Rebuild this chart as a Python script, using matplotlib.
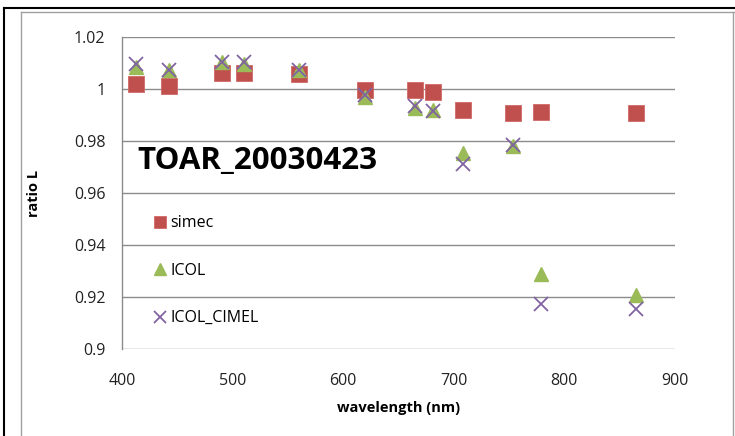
import matplotlib
matplotlib.use("Agg")
import matplotlib.pyplot as plt
from matplotlib.lines import Line2D

wavelength = [412.5, 442.5, 490, 510, 560, 620, 665, 681.25, 708.75, 753.75, 778.75, 865]
simec = [1.002, 1.0012, 1.006, 1.0062, 1.0056, 0.9998, 0.9996, 0.9987, 0.9921, 0.9906, 0.9912, 0.9908]
icol = [1.0085, 1.0073, 1.0102, 1.0098, 1.0072, 0.9971, 0.9928, 0.9920, 0.9754, 0.9780, 0.9288, 0.9207]
icol_cimel = [1.0095, 1.0075, 1.0105, 1.0102, 1.0075, 0.9977, 0.9935, 0.9915, 0.9712, 0.9785, 0.9175, 0.9155]

yticks = [0.9, 0.92, 0.94, 0.96, 0.98, 1.0, 1.02]
ytick_labels = ["0.9", "0.92", "0.94", "0.96", "0.98", "1", "1.02"]
xticks = [400, 500, 600, 700, 800, 900]

FONT = ["Open Sans", "DejaVu Sans"]
plt.rcParams['font.family'] = FONT

fig = plt.figure(figsize=(7.35, 4.36), dpi=100)
ax = fig.add_axes([122/735, 1-349/436, (675-122)/735, (349-37)/436])

red = "#C0504D"
green = "#9BBB59"
purple = "#8064A2"

ax.plot(wavelength, simec, linestyle="none", marker="s", markersize=11,
        color=red, markeredgecolor="#D06A67", markeredgewidth=0.6, label="simec", zorder=3)
ax.plot(wavelength, icol, linestyle="none", marker="^", markersize=10.5,
        color=green, markeredgecolor=green, label="ICOL", zorder=4)
ax.plot(wavelength, icol_cimel, linestyle="none", marker="x", markersize=10.5,
        color=purple, markeredgewidth=1.3, label="ICOL_CIMEL", zorder=5)

ax.set_xlim(400, 900)
ax.set_ylim(0.9, 1.02)
ax.set_xticks(xticks)
ax.set_xticklabels([str(t) for t in xticks], fontsize=11.5)
ax.set_yticks(yticks)
ax.set_yticklabels(ytick_labels, fontsize=11.5)
ax.tick_params(length=0, pad=12, colors="#222222")
ax.tick_params(axis="x", pad=17)

ax.grid(axis="y", color="#8C8C8C", linewidth=1.0)
ax.set_axisbelow(True)
for s in ["top", "right", "bottom"]:
    ax.spines[s].set_visible(False)
ax.spines["left"].set_color("#8C8C8C")
ax.spines["left"].set_linewidth(1.0)

ax.set_xlabel("wavelength (nm)", fontsize=10.5, fontweight="bold", labelpad=9)
ax.set_ylabel("ratio L", fontsize=10.5, fontweight="bold", labelpad=24)

ax.text(414, 0.9725, "TOAR_20030423", fontsize=22.5, fontweight="bold",
        va="center", ha="left", color="black")

leg = ax.legend(loc="upper left", bbox_to_anchor=(0.043, 0.449), frameon=False,
                fontsize=11.5, labelspacing=1.97, handletextpad=0.15,
                handlelength=1.0, borderaxespad=0, markerscale=0.8)

# chart area borders
fig.add_artist(Line2D([4/735, 4/735], [0, 1-8/436], color="black", lw=1.5, transform=fig.transFigure))
fig.add_artist(Line2D([4/735, 1], [1-8/436, 1-8/436], color="black", lw=1.5, transform=fig.transFigure))
fig.add_artist(Line2D([21/735, 21/735], [0, 1-12/436], color="#A0A0A0", lw=1.0, transform=fig.transFigure))
fig.add_artist(Line2D([21/735, 1], [1-12/436, 1-12/436], color="#A0A0A0", lw=1.0, transform=fig.transFigure))
fig.add_artist(Line2D([733/735, 733/735], [0, 1-12/436], color="#A0A0A0", lw=1.0, transform=fig.transFigure))

fig.savefig("out.png", dpi=100)
